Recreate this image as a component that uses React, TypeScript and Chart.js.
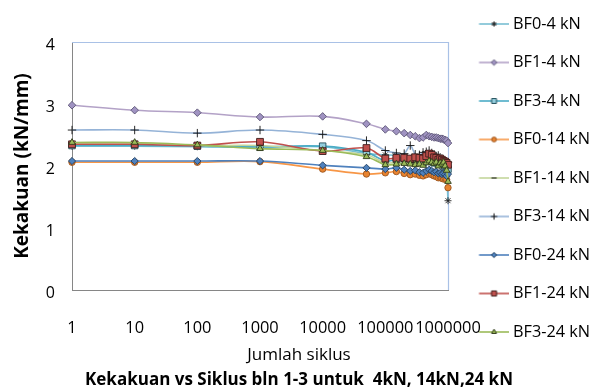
import React, { useEffect, useRef } from 'react';
import { Chart, registerables } from 'chart.js';
import { drawPoint } from 'chart.js/helpers';

Chart.register(...registerables);

// ---------- data ----------
const CYCLES = [1, 10, 100, 1000, 10000, 50000, 100000, 150000, 200000, 250000, 300000, 350000, 400000, 450000, 500000, 550000, 600000, 650000, 700000, 750000, 800000, 850000, 900000, 950000, 1000000];
const X_TICKS = [1, 10, 100, 1000, 10000, 100000, 1000000];
const Y_TICKS = [0, 1, 2, 3, 4];

const SERIES_NAMES = ['BF0-4 kN', 'BF1-4 kN', 'BF3-4 kN', 'BF0-14 kN', 'BF1-14 kN', 'BF3-14 kN', 'BF0-24 kN', 'BF1-24 kN', 'BF3-24 kN'];

const BF0_4 = [2.32, 2.32, 2.31, 2.30, 2.31, 2.20, 2.18, 2.17, 2.14, 2.12, 2.10, 2.09, 2.12, 2.14, 2.12, 2.10, 2.08, 2.06, 2.04, 2.02, 2.00, 1.98, 1.93, 1.85, 1.44];
const BF1_4 = [2.98, 2.90, 2.86, 2.79, 2.80, 2.68, 2.59, 2.56, 2.53, 2.50, 2.48, 2.45, 2.46, 2.50, 2.48, 2.47, 2.46, 2.46, 2.45, 2.44, 2.44, 2.43, 2.42, 2.41, 2.37];
const BF3_4 = [2.33, 2.33, 2.32, 2.31, 2.32, 2.22, 2.08, 2.10, 2.08, 2.06, 2.07, 2.06, 2.05, 2.08, 2.10, 2.07, 2.05, 2.06, 2.04, 2.05, 2.02, 2.03, 2.00, 1.98, 1.95];
const BF0_14 = [2.06, 2.06, 2.06, 2.07, 1.95, 1.87, 1.89, 1.91, 1.88, 1.86, 1.87, 1.85, 1.84, 1.86, 1.88, 1.86, 1.84, 1.83, 1.81, 1.82, 1.80, 1.79, 1.80, 1.78, 1.65];
const BF1_14 = [2.37, 2.37, 2.33, 2.33, 2.25, 2.18, 2.05, 2.06, 2.07, 2.05, 2.06, 2.08, 2.07, 2.10, 2.12, 2.10, 2.09, 2.07, 2.08, 2.10, 2.07, 2.05, 2.03, 2.00, 1.98];
const BF3_14 = [2.58, 2.58, 2.53, 2.58, 2.51, 2.41, 2.25, 2.21, 2.20, 2.33, 2.19, 2.18, 2.22, 2.23, 2.25, 2.21, 2.19, 2.16, 2.17, 2.14, 2.12, 2.10, 2.08, 2.07, 2.06];
const BF0_24 = [2.08, 2.08, 2.08, 2.08, 2.01, 1.97, 1.95, 1.97, 1.94, 1.92, 1.93, 1.90, 1.89, 1.92, 1.94, 1.92, 1.90, 1.91, 1.88, 1.89, 1.87, 1.88, 1.86, 1.84, 1.87];
const BF1_24 = [2.35, 2.35, 2.33, 2.39, 2.24, 2.29, 2.12, 2.13, 2.13, 2.12, 2.14, 2.13, 2.12, 2.16, 2.20, 2.18, 2.14, 2.13, 2.10, 2.12, 2.10, 2.08, 2.07, 2.05, 2.02];
const BF3_24 = [2.38, 2.38, 2.34, 2.28, 2.25, 2.15, 2.02, 2.03, 2.04, 2.03, 2.02, 2.03, 2.01, 2.05, 2.08, 2.06, 2.04, 2.06, 2.00, 2.05, 2.03, 2.06, 2.00, 1.93, 1.75];

const SERIES_VALUES = [BF0_4, BF1_4, BF3_4, BF0_14, BF1_14, BF3_14, BF0_24, BF1_24, BF3_24];

const TITLE = 'Kekakuan vs Siklus bln 1-3 untuk  4kN, 14kN,24 kN';
const X_TITLE = 'Jumlah siklus';
const Y_TITLE = 'Kekakuan (kN/mm)';

// ---------- styles ----------
const FONT = 'Open Sans';
const STYLES = [
  { line: '#78BFD2', fill: '#222222', border: '#222222', marker: 'star', r: 3.5 },
  { line: '#B3A2C7', fill: '#A093C2', border: '#5B5575', marker: 'rectRot', r: 3.8 },
  { line: '#4BACC6', fill: '#93CDDD', border: '#24505C', marker: 'rect', r: 4.6 },
  { line: '#F79646', fill: '#E8832F', border: '#9A5520', marker: 'circle', r: 3.2 },
  { line: '#C3D69B', fill: '#111111', border: '#111111', marker: 'line', r: 3.5 },
  { line: '#95B3D7', fill: '#111111', border: '#111111', marker: 'cross', r: 4.2 },
  { line: '#4F81BD', fill: '#4F81BD', border: '#24405F', marker: 'rectRot', r: 3.6 },
  { line: '#C0504D', fill: '#C0504D', border: '#3F1D1C', marker: 'rect', r: 4.8 },
  { line: '#9BBB59', fill: '#9BBB59', border: '#2F3A18', marker: 'triangle', r: 3.8 },
];

const LEGEND_FONT = 16.3;
const LEGEND_PAD = 22.2;

function makeIcon(s: any): HTMLCanvasElement {
  const c = document.createElement('canvas');
  c.width = 42;
  c.height = 12;
  const ctx = c.getContext('2d')!;
  ctx.strokeStyle = s.line;
  ctx.lineWidth = 1.6;
  ctx.beginPath();
  ctx.moveTo(12.5, 6);
  ctx.lineTo(42, 6);
  ctx.stroke();
  ctx.fillStyle = s.fill;
  ctx.strokeStyle = s.border;
  ctx.lineWidth = 1;
  drawPoint(ctx, { pointStyle: s.marker, radius: s.r * 0.75, rotation: 0, borderWidth: 1 } as any, 27.5, 6);
  return c;
}

const plotFrame = {
  id: 'plotFrame',
  beforeDatasetsDraw(chart: any) {
    const { ctx, chartArea: a } = chart;
    ctx.save();
    ctx.strokeStyle = '#A9C1E6';
    ctx.lineWidth = 1.2;
    ctx.beginPath();
    ctx.moveTo(a.left, a.top + 0.5);
    ctx.lineTo(a.right + 0.5, a.top + 0.5);
    ctx.lineTo(a.right + 0.5, a.bottom);
    ctx.stroke();
    ctx.restore();
  },
};

const legendNudge = {
  id: 'legendNudge',
  afterLayout(chart: any) {
    if (chart.legend) chart.legend.top = -6.4;
  },
};

export default function App() {
  const ref = useRef<HTMLCanvasElement | null>(null);

  useEffect(() => {
    document.body.style.margin = '0';
    const canvas = ref.current;
    if (!canvas) return;
    const icons = STYLES.map(makeIcon);

    const datasets = SERIES_NAMES.map((name, i) => ({
      label: name,
      data: CYCLES.map((x, j) => ({ x, y: SERIES_VALUES[i][j] })),
      borderColor: STYLES[i].line,
      backgroundColor: STYLES[i].fill,
      borderWidth: 1.6,
      pointStyle: STYLES[i].marker as any,
      pointRadius: STYLES[i].r,
      pointBackgroundColor: STYLES[i].fill,
      pointBorderColor: STYLES[i].border,
      pointBorderWidth: 0.9,
      tension: 0.35,
      clip: false as any,
      order: -i,
    }));

    const chart = new Chart(canvas, {
      type: 'line',
      data: { datasets },
      plugins: [plotFrame, legendNudge],
      options: {
        responsive: false,
        animation: false,
        devicePixelRatio: 1,
        layout: { padding: { top: 42, left: 0, right: 0, bottom: 0 } },
        scales: {
          x: {
            type: 'logarithmic',
            min: 1,
            max: 1000000,
            afterBuildTicks(scale: any) {
              scale.ticks = X_TICKS.map((v) => ({ value: v }));
            },
            afterFit(scale: any) {
              scale.height = 54.8;
            },
            grid: { display: false, drawTicks: false },
            border: { display: true, color: '#868686', width: 1 },
            ticks: {
              autoSkip: false,
              maxRotation: 0,
              minRotation: 0,
              padding: 28.4,
              color: '#000',
              font: { family: FONT, size: 16.4 },
              callback: (v: any) => String(v),
            },
            title: { display: false },
          },
          y: {
            type: 'linear',
            min: 0,
            max: 4,
            afterBuildTicks(scale: any) {
              scale.ticks = Y_TICKS.map((v) => ({ value: v }));
            },
            afterFit(scale: any) {
              scale.width = 72;
            },
            grid: { display: false, drawTicks: false },
            border: { display: true, color: '#868686', width: 1 },
            ticks: {
              padding: 17,
              labelOffset: 3,
              color: '#000',
              font: { family: FONT, size: 16 },
              callback: (v: any) => String(v),
            },
            title: {
              display: true,
              text: Y_TITLE,
              color: '#000',
              font: { family: FONT, size: 19, weight: 'bold' },
              padding: { top: 11.6, bottom: 0 },
            },
          },
        },
        plugins: {
          legend: {
            display: true,
            position: 'right',
            align: 'start',
            maxWidth: 150,
            labels: {
              usePointStyle: true,
              pointStyleWidth: 34.65,
              padding: LEGEND_PAD,
              color: '#000',
              font: { family: FONT, size: LEGEND_FONT },
              generateLabels(ch: any) {
                const items = (Chart as any).defaults.plugins.legend.labels.generateLabels(ch);
                items.sort((a: any, b: any) => a.datasetIndex - b.datasetIndex);
                return items.map((it: any) => ({ ...it, pointStyle: icons[it.datasetIndex], fontColor: '#000' }));
              },
            },
          },
          subtitle: {
            display: true,
            position: 'bottom',
            text: X_TITLE,
            color: '#000',
            font: { family: FONT, size: 17, weight: 'normal' },
            padding: { top: 0, bottom: 4.6 },
          },
          title: {
            display: true,
            position: 'bottom',
            text: TITLE,
            color: '#000',
            font: { family: FONT, size: 17, weight: 'bold' },
            padding: { top: 0, bottom: 1.8 },
          },
          tooltip: { enabled: false },
        },
      } as any,
    });

    return () => chart.destroy();
  }, []);

  return (
    <div style={{ width: 598, height: 392, position: 'relative', background: '#fff' }}>
      <canvas ref={ref} width={598} height={392} style={{ display: 'block' }} />
    </div>
  );
}
